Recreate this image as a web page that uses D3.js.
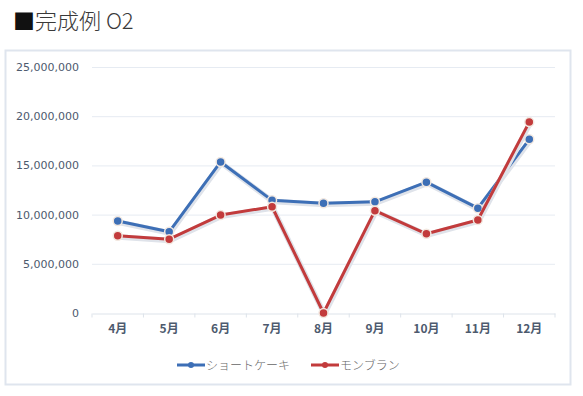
<!DOCTYPE html>
<html>
<head>
<meta charset="utf-8">
<script src="https://cdn.jsdelivr.net/npm/d3@7"></script>
<style>
  body { margin: 0; background: #fff; }
  text { font-family: "Noto Sans CJK JP", "Noto Sans", sans-serif; }
</style>
</head>
<body>
<script>
const width = 583
const height = 396

// data
const months = ['4月', '5月', '6月', '7月', '8月', '9月', '10月', '11月', '12月'];
const shortcake = [9350000, 8250000, 15350000, 11450000, 11150000, 11300000, 13300000, 10650000, 17650000];
const montblanc = [7850000, 7500000, 9950000, 10800000, 0, 10400000, 8050000, 9450000, 19400000];
const seriesNames = ['ショートケーキ', 'モンブラン'];
const yTicks = [0, 5000000, 10000000, 15000000, 20000000, 25000000];

const colors = ['#3d6fb6', '#c23b3c'];

const svg = d3.select('body').append('svg')
    .attr('width', width)
    .attr('height', height);

// title
const title = svg.append('text')
    .attr('x', 13)
    .attr('y', 29)
    .attr('font-size', 22)
    .attr('font-weight', 300)
    .attr('fill', '#3a3a3a');
title.append('tspan').attr('fill', '#111').text('■');
title.append('tspan').text('完成例 O2');

// chart frame
svg.append('rect')
    .attr('x', 5.5)
    .attr('y', 50.5)
    .attr('width', 565)
    .attr('height', 334)
    .attr('fill', '#fff')
    .attr('stroke', '#dfe5ee')
    .attr('stroke-width', 2);

const x = d3.scaleBand()
    .domain(months)
    .range([92, 555]);

const y = d3.scaleLinear()
    .domain([0, 25000000])
    .range([313, 67]);

// gridlines
svg.append('g')
    .selectAll('line')
    .data(yTicks.slice(1))
    .join('line')
    .attr('x1', 92)
    .attr('x2', 555)
    .attr('y1', d => y(d) + 0.5)
    .attr('y2', d => y(d) + 0.5)
    .attr('stroke', '#e6ebf2')
    .attr('stroke-width', 1);

// y labels
svg.append('g')
    .selectAll('text')
    .data(yTicks)
    .join('text')
    .attr('x', 79)
    .attr('y', d => y(d) + 4)
    .attr('text-anchor', 'end')
    .attr('font-size', 11)
    .attr('fill', '#4d5a6e')
    .style('font-family', '"DejaVu Sans", sans-serif')
    .text(d => d3.format(',')(d));

// x axis
const xAxis = svg.append('g')
    .attr('transform', `translate(0,${y(0) + 0.5})`)
    .call(d3.axisBottom(x).tickSize(0).tickPadding(11));
xAxis.select('.domain').attr('stroke', '#dde3ea');
xAxis.selectAll('text')
    .attr('font-size', 12)
    .attr('font-weight', 'bold')
    .attr('fill', '#4d5a6e')
    .style('font-family', '"Noto Sans CJK JP", sans-serif');
// small ticks at category boundaries
xAxis.selectAll('.sep')
    .data(months.map(m => x(m)).concat([x.range()[1]]))
    .join('line')
    .attr('class', 'sep')
    .attr('x1', d => d)
    .attr('x2', d => d)
    .attr('y1', 0)
    .attr('y2', 4)
    .attr('stroke', '#dde3ea');

const line = d3.line()
    .x((d, i) => x(months[i]) + x.bandwidth() / 2)
    .y(d => y(d));

const allSeries = [shortcake, montblanc];

allSeries.forEach(function (vals, s) {
    const g = svg.append('g');
    // soft halo under the line
    g.append('path')
        .attr('d', line(vals))
        .attr('fill', 'none')
        .attr('stroke', '#dfe3ea')
        .attr('stroke-width', 5.5)
        .attr('stroke-linejoin', 'round')
        .attr('transform', 'translate(0.8,1.2)');
    g.append('path')
        .attr('d', line(vals))
        .attr('fill', 'none')
        .attr('stroke', colors[s])
        .attr('stroke-width', 3)
        .attr('stroke-linejoin', 'round');
    g.selectAll('circle')
        .data(vals)
        .join('circle')
        .attr('cx', (d, i) => x(months[i]) + x.bandwidth() / 2)
        .attr('cy', d => y(d))
        .attr('r', 4.5)
        .attr('fill', colors[s])
        .attr('stroke', '#f2e8e0')
        .attr('stroke-width', 1.5);
});

// legend
const legendX = [177, 311];
seriesNames.forEach(function (name, s) {
    const g = svg.append('g').attr('transform', `translate(${legendX[s]},365)`);
    g.append('line')
        .attr('x1', 0)
        .attr('x2', 28)
        .attr('stroke', colors[s])
        .attr('stroke-width', 3);
    g.append('circle')
        .attr('cx', 14)
        .attr('r', 3)
        .attr('fill', colors[s]);
    g.append('text')
        .attr('x', 29)
        .attr('y', 4.5)
        .attr('font-size', 12)
        .attr('font-weight', 300)
        .attr('fill', '#666')
        .text(name);
});
</script>
</body>
</html>
